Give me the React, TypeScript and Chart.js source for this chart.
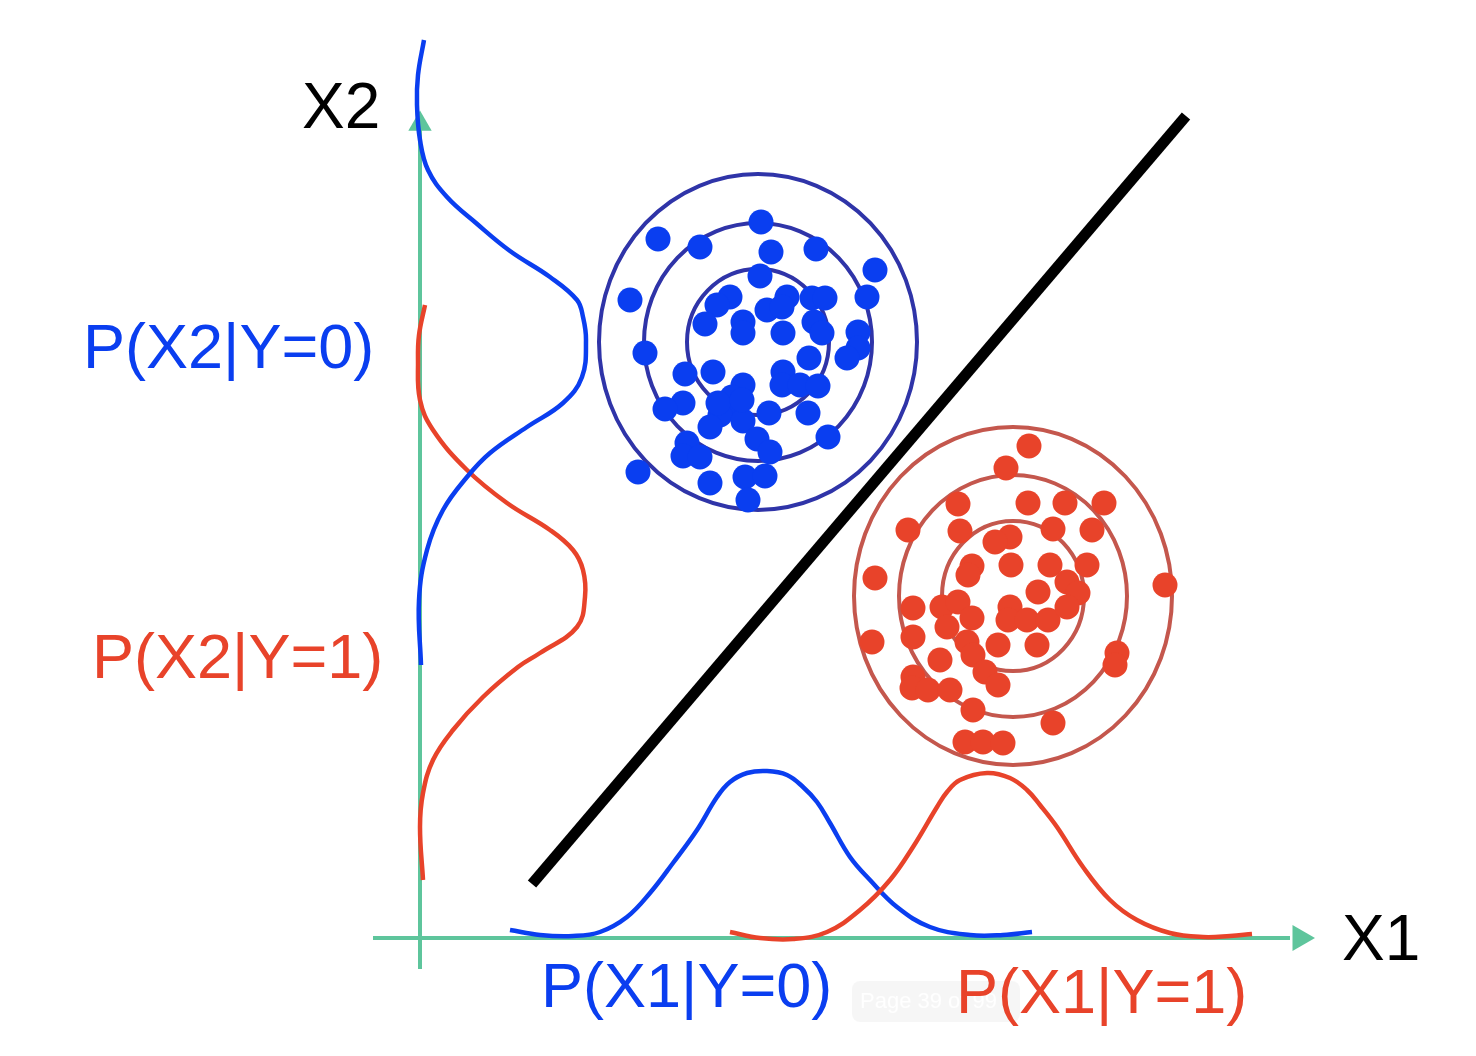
import React, { useEffect, useRef } from "react";
import { Chart, registerables } from "chart.js";

Chart.register(...registerables);

// Picture space: x from 0 to 1476 (left to right), y from 0 to 1056 (top to bottom)
const WIDTH = 1476;
const HEIGHT = 1056;

// Class Y=0 samples (blue)
const blueX = [658, 761, 700, 771, 816, 875, 630, 760, 867, 730, 717, 705, 743, 743, 787, 767, 782, 783, 812, 825, 814, 822, 858, 858, 847, 809, 645, 685, 713, 783, 782, 800, 818, 743, 732, 727, 720, 710, 683, 665, 743, 769, 808, 757, 770, 828, 687, 683, 700, 638, 710, 745, 765, 748, 718, 742];
const blueY = [239, 222, 247, 252, 249, 270, 300, 276, 297, 297, 305, 324, 322, 333, 297, 310, 307, 333, 298, 298, 322, 333, 332, 348, 358, 358, 353, 374, 372, 372, 385, 385, 386, 385, 397, 407, 415, 427, 403, 409, 421, 413, 413, 439, 452, 437, 443, 456, 457, 472, 483, 477, 476, 500, 403, 400];

// Class Y=1 samples (red)
const redX = [1029, 1006, 958, 1028, 1065, 1104, 908, 960, 1053, 1092, 1010, 995, 972, 968, 1011, 1050, 1087, 1067, 1038, 1078, 875, 1165, 913, 942, 958, 972, 947, 1010, 1008, 1027, 1048, 1067, 913, 872, 998, 1037, 967, 940, 973, 1117, 1115, 913, 912, 928, 950, 985, 998, 973, 1053, 965, 983, 1003];
const redY = [446, 468, 504, 503, 503, 503, 530, 531, 529, 530, 537, 542, 566, 575, 565, 565, 565, 582, 592, 593, 578, 585, 608, 607, 602, 618, 627, 607, 620, 620, 620, 607, 637, 642, 645, 645, 642, 660, 655, 653, 665, 677, 688, 690, 690, 672, 685, 710, 723, 742, 742, 743];

// Contour rings (centre + radii)
const blueRingCenter = [758, 342];
const blueRingRx = [71, 114, 159];
const blueRingRy = [73, 119, 168];
const redRingCenter = [1013, 596];
const redRingRx = [71, 114, 159];
const redRingRy = [75, 121, 169];

// P(X2|Y=0) marginal along the X2 axis
const pX2Y0x = [424, 418, 417, 420, 428, 447, 476, 510, 550, 577, 583, 586, 582, 563, 527, 490, 467, 443, 427, 419, 421];
const pX2Y0y = [40, 75, 105, 140, 170, 197, 223, 251, 277, 300, 317, 340, 377, 403, 427, 453, 477, 510, 550, 600, 665];
// P(X2|Y=1)
const pX2Y1x = [425, 419, 418, 420, 433, 467, 507, 550, 573, 583, 585, 577, 540, 518, 483, 453, 433, 423, 420, 423];
const pX2Y1y = [305, 335, 360, 400, 430, 470, 503, 530, 550, 570, 597, 627, 653, 667, 697, 730, 760, 793, 827, 880];
// P(X1|Y=0) along the X1 axis
const pX1Y0x = [510, 540, 573, 600, 627, 650, 673, 697, 717, 730, 747, 767, 787, 803, 817, 830, 850, 870, 897, 930, 970, 1003, 1032];
const pX1Y0y = [930, 935, 936, 932, 917, 893, 863, 830, 797, 782, 773, 771, 775, 787, 802, 823, 857, 880, 907, 927, 935, 935, 932];
// P(X1|Y=1)
const pX1Y1x = [730, 760, 793, 827, 860, 890, 913, 937, 947, 960, 987, 1010, 1027, 1040, 1057, 1083, 1110, 1137, 1170, 1203, 1230, 1252];
const pX1Y1y = [932, 938, 939, 932, 910, 880, 847, 807, 792, 780, 773, 778, 790, 805, 827, 867, 900, 920, 933, 937, 936, 934];

// Decision boundary
const boundaryX = [532, 1186];
const boundaryY = [884, 116];

// Axes
const axisOrigin = [420, 938];
const x1AxisStart = 373;
const x1AxisEnd = 1290;
const x2AxisStart = 969;
const x2AxisEnd = 130;
const x1ArrowAt = [1300, 938];
const x2ArrowAt = [420, 124];

// Labels
const labelTexts = ["X2", "X1", "P(X2|Y=0)", "P(X2|Y=1)", "P(X1|Y=0)", "P(X1|Y=1)"];
const labelX = [302, 1342, 83, 92, 541, 956];
const labelY = [128, 960, 368, 678, 1007, 1013];

const BLUE = "#0a3ef0";
const RED = "#e8432a";
const BLUE_RING = "#2f34a8";
const RED_RING = "#c4574d";
const GREEN = "#5ec59c";
const FONT = '"Liberation Sans", Arial, Helvetica, sans-serif';

const zip = (xs: number[], ys: number[]) => xs.map((x, i) => ({ x, y: ys[i] }));

const overlayPlugin = {
  id: "overlay",
  beforeDatasetsDraw(chart: any) {
    const { ctx, scales } = chart;
    const sx = scales.x;
    const sy = scales.y;
    const drawRings = (c: number[], rx: number[], ry: number[], color: string) => {
      ctx.save();
      ctx.strokeStyle = color;
      ctx.lineWidth = 4;
      for (let i = 0; i < rx.length; i++) {
        const cx = sx.getPixelForValue(c[0]);
        const cy = sy.getPixelForValue(c[1]);
        const px = Math.abs(sx.getPixelForValue(c[0] + rx[i]) - cx);
        const py = Math.abs(sy.getPixelForValue(c[1] + ry[i]) - cy);
        ctx.beginPath();
        ctx.ellipse(cx, cy, px, py, 0, 0, Math.PI * 2);
        ctx.stroke();
      }
      ctx.restore();
    };
    drawRings(blueRingCenter, blueRingRx, blueRingRy, BLUE_RING);
    drawRings(redRingCenter, redRingRx, redRingRy, RED_RING);
  },
  afterDatasetsDraw(chart: any) {
    const { ctx, scales } = chart;
    const sx = scales.x;
    const sy = scales.y;
    // faint page watermark
    ctx.save();
    const wx = sx.getPixelForValue(852);
    const wy = sy.getPixelForValue(981);
    const ww = sx.getPixelForValue(1020) - wx;
    const wh = sy.getPixelForValue(1022) - wy;
    ctx.fillStyle = "rgba(0,0,0,0.035)";
    ctx.beginPath();
    (ctx as any).roundRect(wx, wy, ww, wh, 8);
    ctx.fill();
    ctx.fillStyle = "rgba(255,255,255,0.9)";
    ctx.font = `22px ${FONT}`;
    ctx.textBaseline = "middle";
    ctx.fillText("Page 39 of 99", wx + 8, wy + wh / 2);
    ctx.restore();

    const colors = ["#000000", "#000000", BLUE, RED, BLUE, RED];
    const sizes = [64, 64, 63, 63, 63, 63];
    ctx.save();
    ctx.textBaseline = "alphabetic";
    ctx.textAlign = "left";
    for (let i = 0; i < labelTexts.length; i++) {
      ctx.fillStyle = colors[i];
      ctx.font = `${sizes[i]}px ${FONT}`;
      ctx.fillText(labelTexts[i], sx.getPixelForValue(labelX[i]), sy.getPixelForValue(labelY[i]));
    }
    ctx.restore();
  },
};

export default function App() {
  const canvasRef = useRef<HTMLCanvasElement | null>(null);

  useEffect(() => {
    const canvas = canvasRef.current;
    if (!canvas) return;
    const curve = (data: any[], color: string, order: number) => ({
      data,
      showLine: true,
      borderColor: color,
      borderWidth: 4.5,
      pointRadius: 0,
      tension: 0.4,
      fill: false,
      order,
    });
    const chart = new Chart(canvas, {
      type: "scatter",
      data: {
        datasets: [
          // axes
          {
            data: [{ x: x1AxisStart, y: axisOrigin[1] }, { x: x1AxisEnd, y: axisOrigin[1] }],
            showLine: true,
            borderColor: GREEN,
            borderWidth: 4,
            pointRadius: 0,
            order: 9,
          },
          {
            data: [{ x: axisOrigin[0], y: x2AxisStart }, { x: axisOrigin[0], y: x2AxisEnd }],
            showLine: true,
            borderColor: GREEN,
            borderWidth: 4,
            pointRadius: 0,
            order: 9,
          },
          {
            data: [{ x: x1ArrowAt[0], y: x1ArrowAt[1] }],
            pointStyle: "triangle",
            pointRotation: 90,
            pointRadius: 15,
            backgroundColor: GREEN,
            borderColor: GREEN,
            borderWidth: 0,
            order: 9,
          },
          {
            data: [{ x: x2ArrowAt[0], y: x2ArrowAt[1] }],
            pointStyle: "triangle",
            pointRotation: 0,
            pointRadius: 13.5,
            backgroundColor: GREEN,
            borderColor: GREEN,
            borderWidth: 0,
            order: 9,
          },
          // marginal curves
          curve(zip(pX2Y0x, pX2Y0y), BLUE, 5),
          curve(zip(pX2Y1x, pX2Y1y), RED, 5),
          curve(zip(pX1Y0x, pX1Y0y), BLUE, 6),
          curve(zip(pX1Y1x, pX1Y1y), RED, 4),
          // decision boundary
          {
            data: zip(boundaryX, boundaryY),
            showLine: true,
            borderColor: "#000000",
            borderWidth: 11,
            borderCapStyle: "butt",
            pointRadius: 0,
            order: 3,
          },
          // samples
          {
            data: zip(blueX, blueY),
            pointRadius: 12.5,
            backgroundColor: BLUE,
            borderWidth: 0,
            order: 1,
          },
          {
            data: zip(redX, redY),
            pointRadius: 12.5,
            backgroundColor: RED,
            borderWidth: 0,
            order: 1,
          },
        ] as any,
      },
      options: {
        animation: false,
        responsive: false,
        devicePixelRatio: 1,
        events: [],
        layout: { padding: 0, autoPadding: false },
        plugins: {
          legend: { display: false },
          tooltip: { enabled: false },
        },
        scales: {
          x: { type: "linear", min: 0, max: WIDTH, display: false },
          y: { type: "linear", min: 0, max: HEIGHT, reverse: true, display: false },
        },
      } as any,
      plugins: [overlayPlugin],
    });
    return () => chart.destroy();
  }, []);

  return (
    <div style={{ position: "absolute", left: 0, top: 0, width: WIDTH, height: HEIGHT, background: "#ffffff" }}>
      <canvas ref={canvasRef} width={WIDTH} height={HEIGHT} style={{ display: "block" }} />
    </div>
  );
}
